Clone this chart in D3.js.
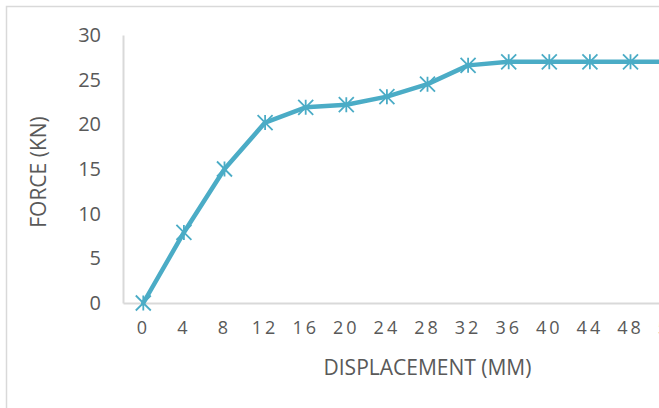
<!DOCTYPE html>
<html>
<head>
<meta charset="utf-8">
<script src="https://cdn.jsdelivr.net/npm/d3@7"></script>
<style>
  html, body { margin: 0; padding: 0; background: #fff; overflow: hidden; }
  svg { display: block; }
  text { font-family: "Open Sans", "Noto Sans", sans-serif; fill: #595959; }
</style>
</head>
<body>
<svg id="chart" width="659" height="408"></svg>
<script>
// Load–displacement record
const displacement = [0, 4, 8, 12, 16, 20, 24, 28, 32, 36, 40, 44, 48, 52, 56];
const force = [0, 7.9, 15.0, 20.2, 21.9, 22.2, 23.1, 24.5, 26.6, 27.0, 27.0, 27.0, 27.0, 27.0, 27.0];
const yTicks = [0, 5, 10, 15, 20, 25, 30];
const xTitle = "DISPLACEMENT (MM)";
const yTitle = "FORCE (KN)";

const svg = d3.select("#chart");
const W = 659, H = 408;
const plot = { left: 123, top: 35, bottom: 303, right: 732 };
const lineColor = "#4bacc6";
const gridColor = "#d9d9d9";

// Outer chart frame (runs past the right and bottom edges)
svg.append("rect")
  .attr("x", 6.5).attr("y", 6.5)
  .attr("width", W + 40).attr("height", H + 40)
  .attr("fill", "none").attr("stroke", gridColor).attr("stroke-width", 1.5);

const x = d3.scaleBand()
  .domain(displacement)
  .range([plot.left, plot.right])
  .paddingInner(0).paddingOuter(0);

const y = d3.scaleLinear()
  .domain([0, 30])
  .range([plot.bottom, plot.top]);

// Y axis
const yAxis = svg.append("g")
  .attr("transform", `translate(${plot.left},0)`)
  .call(d3.axisLeft(y).tickValues(yTicks).tickSize(0).tickPadding(22));
yAxis.select(".domain").attr("stroke", gridColor).attr("stroke-width", 2);
yAxis.selectAll("text")
  .style("font-size", "20px")
  .attr("fill", "#595959");

// X axis
const xAxis = svg.append("g")
  .attr("transform", `translate(0,${plot.bottom})`)
  .call(d3.axisBottom(x).tickSize(0).tickPadding(18));
xAxis.select(".domain").attr("stroke", gridColor).attr("stroke-width", 2);
xAxis.selectAll("text")
  .style("font-size", "18px")
  .style("letter-spacing", "3px")
  .attr("fill", "#595959");

// Axis titles
svg.append("text")
  .attr("x", (plot.left + plot.right) / 2)
  .attr("y", 367)
  .attr("text-anchor", "middle")
  .attr("dominant-baseline", "central")
  .style("font-size", "21px")
  .text(xTitle);

svg.append("text")
  .attr("transform", `translate(38,${(plot.top + plot.bottom) / 2 + 3}) rotate(-90)`)
  .attr("text-anchor", "middle")
  .attr("dominant-baseline", "central")
  .style("font-size", "21px")
  .text(yTitle);

// Series
const pts = displacement.map((d, i) => ({ d, f: force[i] }));
const cx = p => x(p.d) + x.bandwidth() / 2;

svg.append("path")
  .datum(pts)
  .attr("fill", "none")
  .attr("stroke", lineColor)
  .attr("stroke-width", 4.5)
  .attr("stroke-linejoin", "round")
  .attr("stroke-linecap", "round")
  .attr("d", d3.line().x(cx).y(p => y(p.f)));

// Star markers: an X crossed by a vertical stroke
const r = 7.5;
const star = `M${-r},${-r}L${r},${r}M${-r},${r}L${r},${-r}M0,${-r}L0,${r}`;
svg.append("g").selectAll("path")
  .data(pts)
  .join("path")
  .attr("transform", p => `translate(${cx(p)},${y(p.f)})`)
  .attr("d", star)
  .attr("fill", "none")
  .attr("stroke", lineColor)
  .attr("stroke-width", 1.8);
</script>
</body>
</html>
